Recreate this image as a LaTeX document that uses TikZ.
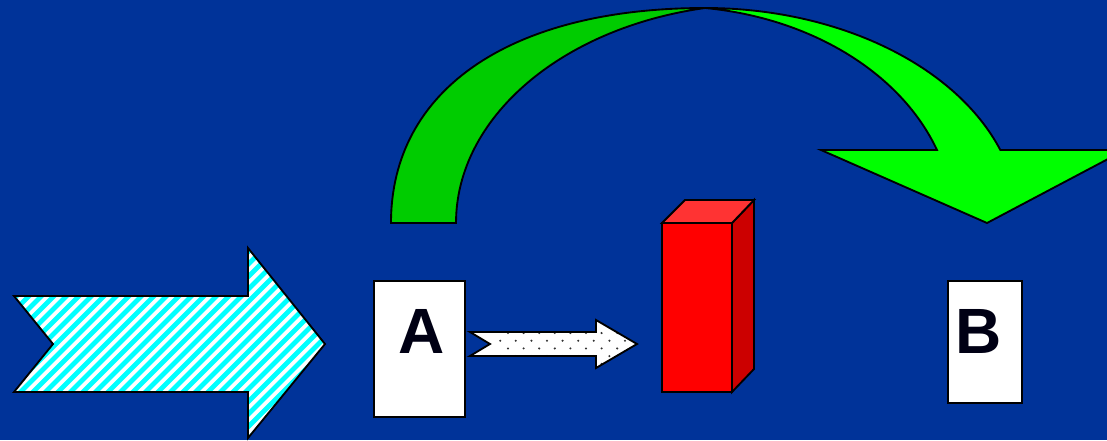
\documentclass[tikz,border=0pt]{standalone}
\usepackage{fontspec}
\setmainfont{Liberation Sans}
\definecolor{bg}{RGB}{0,51,153}
\definecolor{dkgreen}{RGB}{0,204,0}
\definecolor{ltgreen}{RGB}{0,255,0}
\definecolor{redfront}{RGB}{255,0,0}
\definecolor{redtop}{RGB}{255,51,51}
\definecolor{redside}{RGB}{204,0,0}
\definecolor{stripe}{RGB}{0,255,255}
\definecolor{letter}{RGB}{0,0,20}
\tikzset{
  outline/.style={draw=black, line width=1.4pt, line join=miter},
  paper/.style={rectangle, draw=black, line width=1.4pt, fill=white, inner sep=0pt},
  bigletter/.style={text=letter, font=\fontsize{48}{48}\selectfont\bfseries, inner sep=0pt},
}
\begin{document}
\begin{tikzpicture}[x=0.75pt,y=-0.75pt]
\fill[bg] (0,0) rectangle (1107,440);
\useasboundingbox (0,0) rectangle (1107,440);
\clip (0,0) rectangle (1107,440);

% striped arrow
\def\bigarrow{(14,296) -- (248,296) -- (248,248) -- (325,344) -- (248,438) -- (248,392) -- (14,392) -- (53,344) -- cycle}
\fill[white] \bigarrow;
\begin{scope}
  \clip \bigarrow;
  \foreach \i in {-300,-287.5,...,360}
    \draw[stripe, line width=3.6pt] (\i,450) -- ++(260,-260);
\end{scope}
\draw[outline] \bigarrow;

% box A
\node[paper, minimum width=91*0.75pt, minimum height=136*0.75pt] (boxA) at (419.5,349) {};
\node[bigletter] (letA) at (422,331) {A};

% dotted arrow
\def\smallarrow{(470,332) -- (596,332) -- (596,320) -- (637,344) -- (596,368) -- (596,356) -- (470,356) -- (490,344) -- cycle}
\fill[white] \smallarrow;
\begin{scope}
  \clip \smallarrow;
  \foreach \r in {0,...,6}{
    \pgfmathsetmacro{\yy}{317.6+7.7*\r}
    \pgfmathsetmacro{\xo}{mod(\r,2)==0 ? 508 : 500.2}
    \foreach \k in {0,...,9}
      \fill[black!80] ({\xo+15.6*\k},\yy) circle (1.15);
  }
\end{scope}
\draw[outline] \smallarrow;

% red bar
\fill[redside, outline] (732,223) -- (754,200) -- (754,369) -- (732,392) -- cycle;
\fill[redtop, outline] (662,223) -- (685,200) -- (754,200) -- (732,223) -- cycle;
\node[rectangle, fill=redfront, draw=black, line width=1.4pt, minimum width=70*0.75pt, minimum height=169*0.75pt, inner sep=0pt] (bar) at (697,307.5) {};

% box B
\node[paper, minimum width=74*0.75pt, minimum height=122*0.75pt] (boxB) at (985,342) {};
\node[bigletter] (letB) at (979,331) {B};

% curved arrow: back (left) band
\fill[dkgreen, outline] (391,223) .. controls (391,90) and (510,8) .. (705,8)
  arc[start angle=258.8, end angle=180, x radius=309, y radius=219.2] -- cycle;
% front (right) band with head
\fill[ltgreen, outline] (705,8) arc[start angle=270, end angle=340.15, x radius=314, y radius=215]
  -- (1125,150) -- (987,223) -- (821,150) -- (937,150)
  arc[start angle=340.31, end angle=277.09, x radius=283.7, y radius=216.7] -- cycle;
\end{tikzpicture}
\end{document}
